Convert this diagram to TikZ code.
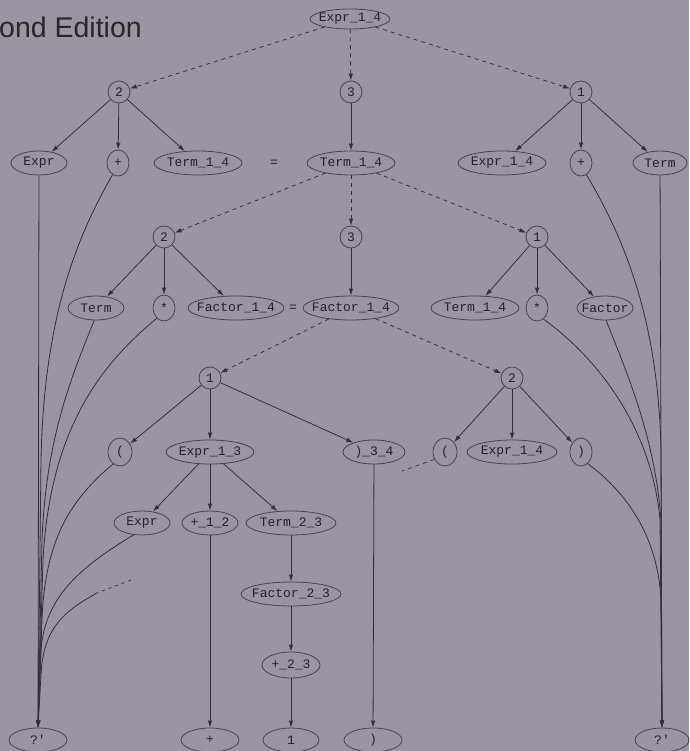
\documentclass[tikz,border=0pt]{standalone}
\usepackage{fontspec}
\usetikzlibrary{shapes.geometric,arrows.meta}
\newfontfamily\monof{Liberation Mono}
\newfontfamily\sansf{Liberation Sans}
\definecolor{bgc}{RGB}{155,149,163}
\definecolor{ln}{RGB}{52,47,58}
\definecolor{ol}{RGB}{72,67,80}
\definecolor{tx}{RGB}{36,32,42}
\begin{document}
\begin{tikzpicture}[x=1pt,y=-1pt,
 nd/.style={ellipse,draw=ol,line width=0.8pt,inner xsep=-14pt,inner ysep=-3pt,text=tx,font=\monof\fontsize{13}{13}\selectfont,minimum height=24pt},
 cn/.style={nd,minimum width=22pt,minimum height=22pt},
 edge/.style={draw=ln,line width=0.8pt,-{Latex[length=7pt,width=4.5pt]}},
 dedge/.style={edge,dash pattern=on 4pt off 4pt},
 crv/.style={draw=ln,line width=0.75pt},
 eqs/.style={inner sep=0pt,text=tx,font=\monof\fontsize{13}{13}\selectfont}
]
\fill[bgc] (0,0) rectangle (689,751);
\useasboundingbox (0,0) rectangle (689,751);

\node[anchor=base west,inner sep=0pt,font=\sansf\fontsize{28.5}{28.5}\selectfont,text=black!85] (title) at (-1,38) {ond Edition};

% row 0
\node[nd,minimum width=80pt,minimum height=20pt] (top) at (350,19) {Expr\_1\_4};
% row 1
\node[cn] (a2) at (119,92) {2};
\node[cn] (a3) at (351,92) {3};
\node[cn] (a1) at (581,92) {1};
% row 2
\node[nd,minimum width=56pt] (exprL) at (39,163) {Expr};
\node[nd,minimum width=22pt,minimum height=26pt] (plusL) at (118,163) {+};
\node[nd,minimum width=88pt] (t14a) at (198,163) {Term\_1\_4};
\node[eqs] (eq1) at (274,163) {=};
\node[nd,minimum width=88pt] (t14b) at (351,163) {Term\_1\_4};
\node[nd,minimum width=88pt] (e14a) at (502,163) {Expr\_1\_4};
\node[nd,minimum width=22pt,minimum height=26pt] (plusR) at (581,163) {+};
\node[nd,minimum width=54pt] (termR) at (660,163) {Term};
% row 3
\node[cn] (b2) at (164,237) {2};
\node[cn] (b3) at (351,237) {3};
\node[cn] (b1) at (537,237) {1};
% row 4
\node[nd,minimum width=56pt] (termL) at (96,308) {Term};
\node[nd,minimum width=22pt,minimum height=26pt] (starL) at (164,308) {*};
\node[nd,minimum width=96pt] (f14a) at (236,308) {Factor\_1\_4};
\node[eqs] (eq2) at (293,308) {=};
\node[nd,minimum width=96pt] (f14b) at (351,308) {Factor\_1\_4};
\node[nd,minimum width=88pt] (t14c) at (475,308) {Term\_1\_4};
\node[nd,minimum width=22pt,minimum height=26pt] (starR) at (537,308) {*};
\node[nd,minimum width=56pt] (factR) at (605,308) {Factor};
% row 5
\node[cn] (c1) at (210,378) {1};
\node[cn] (c2) at (512,378) {2};
% row 6
\node[nd,minimum width=24pt,minimum height=28pt] (lparL) at (120,452) {(};
\node[nd,minimum width=88pt] (e13) at (210,452) {Expr\_1\_3};
\node[nd,minimum width=62pt] (rp34) at (374,452) {)\_3\_4};
\node[nd,minimum width=24pt,minimum height=28pt] (lparR) at (445,452) {(};
\node[nd,minimum width=90pt] (e14b) at (512,452) {Expr\_1\_4};
\node[nd,minimum width=22pt,minimum height=28pt] (rparR) at (581,452) {)};
% row 7
\node[nd,minimum width=56pt] (exprB) at (142,523) {Expr};
\node[nd,minimum width=56pt] (p12) at (210,523) {+\_1\_2};
\node[nd,minimum width=90pt] (t23) at (291,523) {Term\_2\_3};
% row 8, 9
\node[nd,minimum width=100pt] (f23) at (291,594) {Factor\_2\_3};
\node[nd,minimum width=58pt,minimum height=26pt] (p23) at (291,665) {+\_2\_3};
% row 10
\node[nd,minimum width=58pt] (qL) at (38,740) {?'};
\node[nd,minimum width=58pt] (plusB) at (210,740) {+};
\node[nd,minimum width=56pt] (oneB) at (291,740) {1};
\node[nd,minimum width=58pt] (rparB) at (373,740) {)};
\node[nd,minimum width=54pt] (qR) at (662,740) {?'};

% dashed alternatives
\draw[dedge] (top) -- (a2);
\draw[dedge] (top) -- (a3);
\draw[dedge] (top) -- (a1);
\draw[dedge] (t14b) -- (b2);
\draw[dedge] (t14b) -- (b3);
\draw[dedge] (t14b) -- (b1);
\draw[dedge] (f14b) -- (c1);
\draw[dedge] (f14b) -- (c2);

% tree edges
\draw[edge] (a2) -- (exprL);
\draw[edge] (a2) -- (plusL);
\draw[edge] (a2) -- (t14a);
\draw[edge] (a3) -- (t14b);
\draw[edge] (a1) -- (e14a);
\draw[edge] (a1) -- (plusR);
\draw[edge] (a1) -- (termR);
\draw[edge] (b2) -- (termL);
\draw[edge] (b2) -- (starL);
\draw[edge] (b2) -- (f14a);
\draw[edge] (b3) -- (f14b);
\draw[edge] (b1) -- (t14c);
\draw[edge] (b1) -- (starR);
\draw[edge] (b1) -- (factR);
\draw[edge] (c1) -- (lparL);
\draw[edge] (c1) -- (e13);
\draw[edge] (c1) -- (rp34);
\draw[edge] (c2) -- (lparR);
\draw[edge] (c2) -- (e14b);
\draw[edge] (c2) -- (rparR);
\draw[edge] (e13) -- (exprB);
\draw[edge] (e13) -- (p12);
\draw[edge] (e13) -- (t23);
\draw[edge] (t23) -- (f23);
\draw[edge] (f23) -- (p23);
\draw[edge] (p23) -- (oneB);
\draw[edge] (p12) -- (plusB);
\draw[edge] (rp34) -- (rparB);

% left bundle into ?'
\draw[edge] (exprL) -- (qL);
\draw[edge] (plusL.245) .. controls (75,240) and (44,320) .. (41,460) -- (qL.north);
\draw[edge] (termL.262) .. controls (70,380) and (46,440) .. (42,540) -- (qL.north);
\draw[edge] (starL.235) .. controls (100,365) and (50,430) .. (43,560) -- (qL.north);
\draw[edge] (lparL.240) .. controls (70,500) and (45,540) .. (42,620) -- (qL.north);
\draw[edge] (exprB.235) .. controls (75,570) and (45,600) .. (41,650) -- (qL.north);
\coordinate (fragA) at (131,580);
\coordinate (fragB) at (97,593);
\draw[crv,dash pattern=on 3pt off 4pt] (fragA) -- (fragB);
\draw[edge] (fragB) .. controls (62,612) and (43,630) .. (41,675) -- (qL.north);

% right bundle into ?'
\draw[edge] (termR) -- (qR);
\draw[edge] (plusR.295) .. controls (625,240) and (658,320) .. (661,450) -- (qR.north);
\draw[edge] (starR.300) .. controls (600,360) and (652,430) .. (660,520) -- (qR.north);
\draw[edge] (factR.275) .. controls (630,380) and (655,440) .. (661,520) -- (qR.north);
\draw[edge] (rparR.300) .. controls (630,495) and (658,540) .. (661,600) -- (qR.north);

% stray fragment near right (
\coordinate (fragC) at (402,471);
\draw[crv,dash pattern=on 4pt off 4pt] (lparR.215) -- (fragC);
\end{tikzpicture}
\end{document}
